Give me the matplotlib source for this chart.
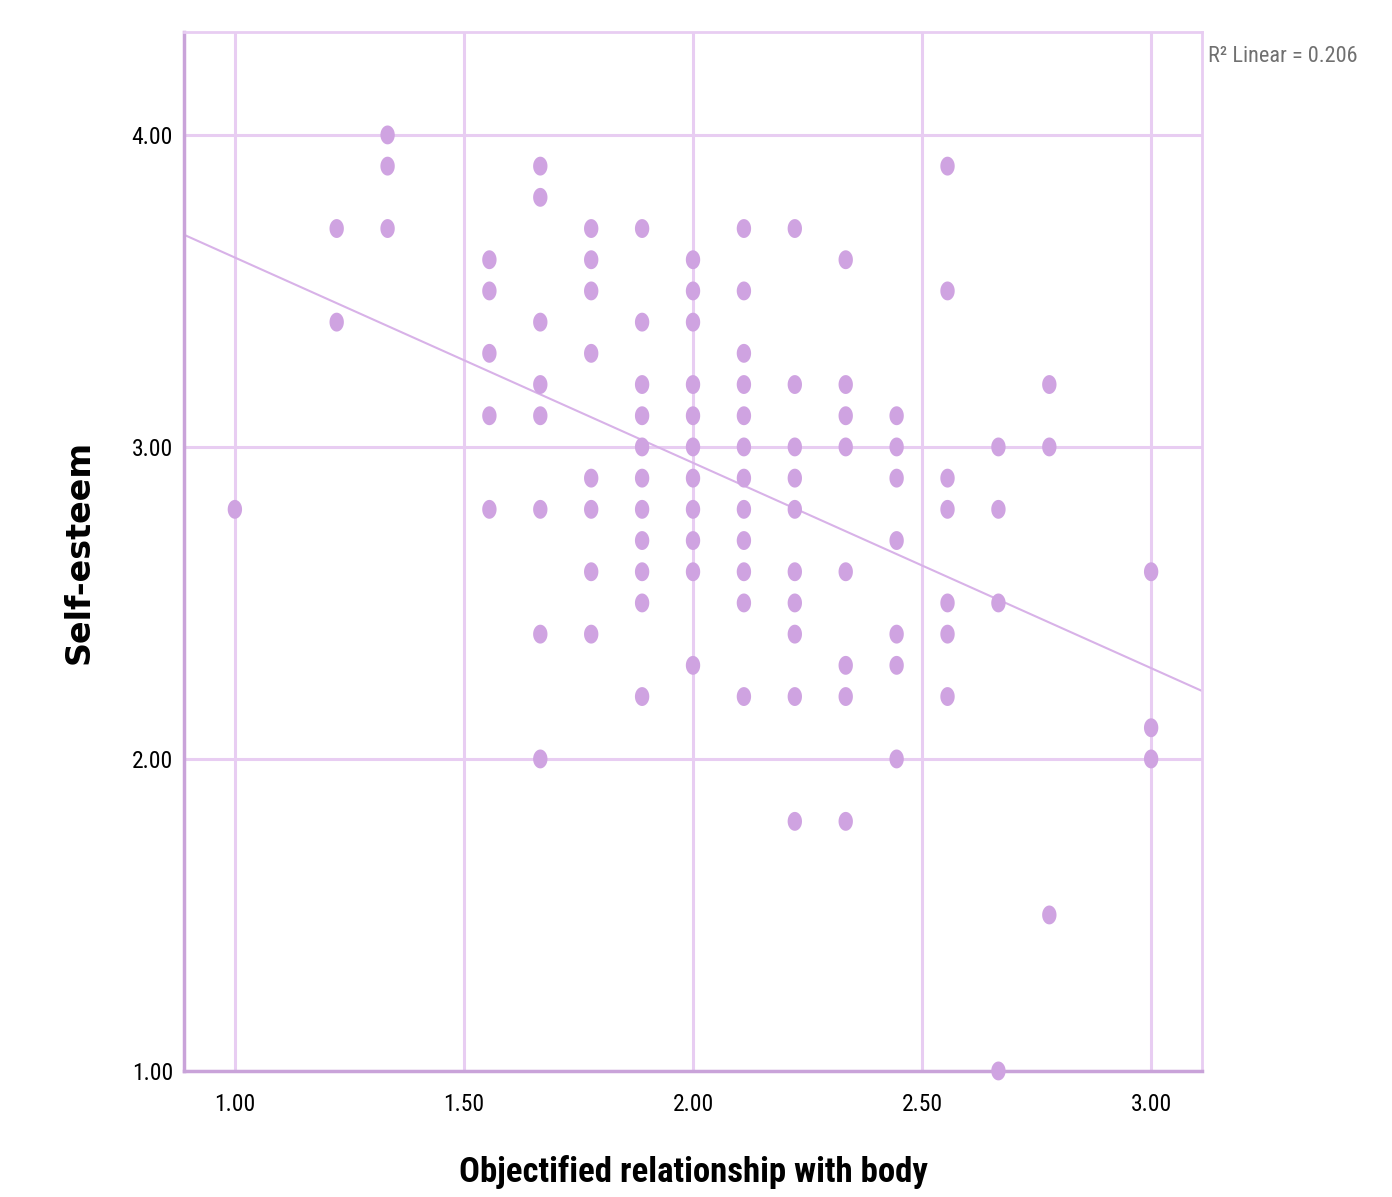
import numpy as np
import matplotlib
matplotlib.use("Agg")
import matplotlib.pyplot as plt
from matplotlib.path import Path
from matplotlib import font_manager

# Datos (x en pasos de 1/9, y en pasos de 0.1)
x_cols = [1.0, 11/9, 12/9, 14/9, 15/9, 16/9, 17/9, 2.0, 19/9, 20/9, 21/9, 22/9, 23/9, 24/9, 25/9, 3.0]
y_cols = [
    [2.8],
    [3.7, 3.4],
    [4.0, 3.9, 3.7],
    [3.6, 3.5, 3.3, 3.1, 2.8],
    [3.9, 3.8, 3.4, 3.2, 3.1, 2.8, 2.4, 2.0],
    [3.7, 3.6, 3.5, 3.3, 2.9, 2.8, 2.6, 2.4],
    [3.7, 3.4, 3.2, 3.1, 3.0, 2.9, 2.8, 2.7, 2.6, 2.5, 2.2],
    [3.6, 3.5, 3.4, 3.2, 3.1, 3.0, 2.9, 2.8, 2.7, 2.6, 2.3],
    [3.7, 3.5, 3.3, 3.2, 3.1, 3.0, 2.9, 2.8, 2.7, 2.6, 2.5, 2.2],
    [3.7, 3.2, 3.0, 2.9, 2.8, 2.6, 2.5, 2.4, 2.2, 1.8],
    [3.6, 3.2, 3.1, 3.0, 2.6, 2.3, 2.2, 1.8],
    [3.1, 3.0, 2.9, 2.7, 2.4, 2.3, 2.0],
    [3.9, 3.5, 2.9, 2.8, 2.5, 2.4, 2.2],
    [3.0, 2.8, 2.5, 1.0],
    [3.2, 3.0, 1.5],
    [2.6, 2.1, 2.0],
]
# Recta de ajuste
fit_intercept = 4.265
fit_slope = -0.658
r2_text = "R² Linear = 0.206"

x = np.concatenate([[xc] * len(ys) for xc, ys in zip(x_cols, y_cols)])
y = np.concatenate(y_cols)

# Fuente estrecha si existe
names = {f.name for f in font_manager.fontManager.ttflist}
narrow = "DejaVu Sans"
for cand in ["Liberation Sans Narrow", "Roboto Condensed", "DejaVu Sans Condensed",
             "Open Sans Condensed", "Roboto"]:
    if cand in names:
        narrow = cand
        break

# Marcador eliptico (mas alto que ancho)
t = np.linspace(0, 2 * np.pi, 60)
ellipse = Path(np.column_stack([0.76 * np.cos(t), np.sin(t)]), closed=True)

fig = plt.figure(figsize=(13.92, 11.97), dpi=100)
ax = fig.add_axes([0.1322, 0.1053, 0.7313, 0.868])

grid_c = "#e8cdf2"
ax.set_xlim(0.889, 3.111)
ax.set_ylim(1.0, 4.33)
ax.set_xticks([1.0, 1.5, 2.0, 2.5, 3.0])
ax.set_yticks([1.0, 2.0, 3.0, 4.0])
ax.set_xticklabels(["%.2f" % v for v in ax.get_xticks()], family=narrow, fontsize=17)
ax.set_yticklabels(["%.2f" % v for v in ax.get_yticks()], family=narrow, fontsize=17)
ax.tick_params(axis="x", length=0, pad=16)
ax.tick_params(axis="y", length=0, pad=8)
ax.grid(True, color=grid_c, linewidth=2.2)
ax.set_axisbelow(True)

for s in ["top", "right"]:
    ax.spines[s].set_color(grid_c)
    ax.spines[s].set_linewidth(2)
for s in ["left", "bottom"]:
    ax.spines[s].set_color("#c9a3d9")
    ax.spines[s].set_linewidth(2.5)

ax.scatter(x, y, s=185, marker=ellipse, color="#cfa3e1", edgecolors="none", zorder=3, clip_on=False)

xl = np.array([0.889, 3.111])
ax.plot(xl, fit_intercept + fit_slope * xl, color="#d8b2e8", linewidth=1.5, zorder=2)

ax.set_xlabel("Objectified relationship with body", family=narrow, fontsize=25,
              fontweight="bold", labelpad=28)
ax.set_ylabel("Self-esteem", fontsize=24, fontweight="bold", labelpad=26)
fig.text(0.868, 0.953, r2_text, family=narrow, fontsize=16, color="#707070", ha="left", va="center")

plt.savefig("out.png", dpi=100)
